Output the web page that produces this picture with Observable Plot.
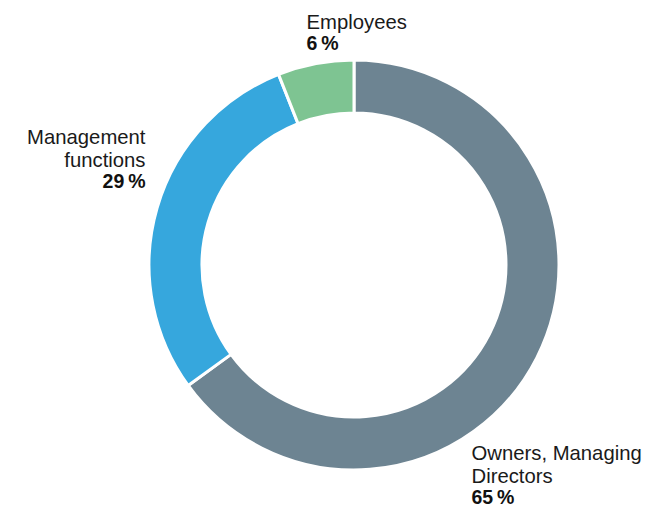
<!DOCTYPE html>
<html>
<head>
<meta charset="utf-8">
<script src="https://cdn.jsdelivr.net/npm/d3@7"></script>
<script src="https://cdn.jsdelivr.net/npm/@observablehq/plot@0.6"></script>
<style>
  html, body { margin: 0; padding: 0; background: #fff; }
  #chart svg { display: block; }
</style>
</head>
<body>
<div id="chart"></div>
<script>
// ---- data ----
const categories = ["Owners, Managing\nDirectors", "Management\nfunctions", "Employees"];
const shares = [65, 29, 6];
const shareLabels = ["65\u202F%", "29\u202F%", "6\u202F%"];
const colors = ["#6d8492", "#36a7dd", "#7ec492"];

// ---- layout ----
const W = 670, H = 508;
const center = {x: 354, y: 265};
const outerR = 205, innerR = 152;
const fontSize = 20.3, pctSize = 19.5, lineH = 23;
const labelLayout = [
  {x: 471, y: 443.6, anchor: "start"},
  {x: 145, y: 127.6, anchor: "end"},
  {x: 306, y: 12.6, anchor: "start"}
];

const data = categories.map((c, i) => ({
  name: c, share: shares[i], label: shareLabels[i], color: colors[i],
  lx: labelLayout[i].x, ly: labelLayout[i].y, anchor: labelLayout[i].anchor,
  nLines: c.split("\n").length
}));

const pie = d3.pie().sort(null).value(d => d.share);
const arcs = pie(data);
const arc = d3.arc().innerRadius(innerR).outerRadius(outerR);

const donut = (index, scales) => {
  const g = d3.create("svg:g")
    .attr("transform", `translate(${scales.x(center.x)},${scales.y(center.y)})`);
  g.selectAll("path").data(arcs).join("path")
    .attr("d", arc)
    .attr("fill", d => d.data.color)
    .attr("stroke", "#fff")
    .attr("stroke-width", 3)
    .attr("stroke-linejoin", "round");
  return g.node();
};

const textMarks = ["start", "end"].flatMap(anchor => {
  const sub = data.filter(d => d.anchor === anchor);
  return [
    Plot.text(sub, {
      x: "lx", y: "ly", text: "name", textAnchor: anchor, lineAnchor: "top",
      lineHeight: lineH / fontSize, fontSize, fill: "#1a1a1a",
      fontFamily: "Liberation Sans, Arial, sans-serif"
    }),
    Plot.text(sub, {
      x: "lx", y: d => d.ly + d.nLines * lineH + 0.5, text: "label", textAnchor: anchor,
      lineAnchor: "top", fontSize: pctSize, fontWeight: "bold", fill: "#111",
      fontFamily: "Liberation Sans, Arial, sans-serif"
    })
  ];
});

const chart = Plot.plot({
  width: W, height: H,
  margin: 0,
  x: {domain: [0, W], range: [0, W], axis: null},
  y: {domain: [0, H], range: [0, H], axis: null},
  style: {background: "#fff", overflow: "visible"},
  marks: [donut, ...textMarks]
});
document.getElementById("chart").append(chart);
</script>
</body>
</html>
